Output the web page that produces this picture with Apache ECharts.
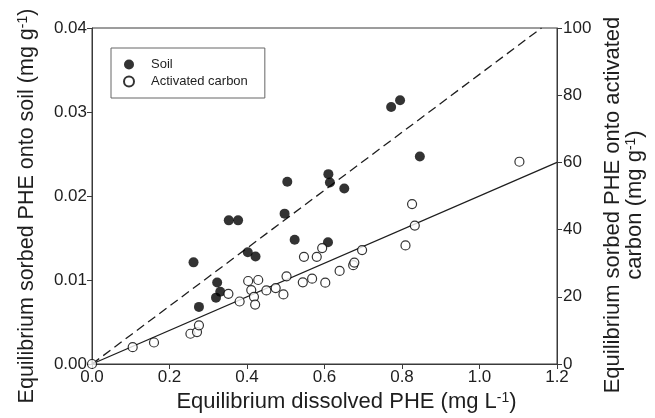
<!DOCTYPE html>
<html>
<head>
<meta charset="utf-8">
<script src="https://cdn.jsdelivr.net/npm/echarts@6/dist/echarts.min.js"></script>
<style>
  html, body { margin: 0; padding: 0; background: #fff; }
  #chart { width: 655px; height: 418px; }
</style>
</head>
<body>
<div id="chart"></div>
<script>
// soil: [dissolved PHE (mg/L), sorbed PHE (mg/g)]
const soilPoints = [
  [0.262, 0.0121], [0.276, 0.0068], [0.320, 0.0079], [0.323, 0.0097],
  [0.331, 0.0086], [0.353, 0.0171], [0.377, 0.0171], [0.402, 0.0133],
  [0.422, 0.0128], [0.497, 0.0179], [0.504, 0.0217], [0.523, 0.0148],
  [0.609, 0.0145], [0.610, 0.0226], [0.614, 0.0216], [0.651, 0.0209],
  [0.772, 0.0306], [0.795, 0.0314], [0.846, 0.0247]
];
// activated carbon: [dissolved PHE (mg/L), sorbed PHE (mg/g)]
const carbonPoints = [
  [0.0, 0.0], [0.105, 5.0], [0.160, 6.4], [0.254, 9.0], [0.271, 9.5],
  [0.276, 11.5], [0.352, 20.9], [0.381, 18.6], [0.403, 24.7], [0.411, 22.0],
  [0.418, 20.0], [0.421, 17.7], [0.429, 25.0], [0.450, 21.9], [0.474, 22.6],
  [0.494, 20.7], [0.502, 26.1], [0.544, 24.3], [0.547, 31.9], [0.568, 25.4],
  [0.580, 31.9], [0.594, 34.5], [0.602, 24.2], [0.639, 27.7], [0.674, 29.4],
  [0.677, 30.2], [0.697, 33.9], [0.809, 35.3], [0.826, 47.6], [0.833, 41.2],
  [1.103, 60.2]
];
// linear fits through origin
const soilFit = [[0, 0], [1.16, 0.04]];
const carbonFit = [[0, 0], [1.2, 60]];

const ink = '#1e1e1e';
const axisColor = '#3a3a3a';
const font = 'Liberation Sans, Arial, sans-serif';
const supStyle = { fontSize: 14, fontFamily: font, color: ink, verticalAlign: 'top', padding: [0, 0, 8, 0] };

let chart = echarts.init(document.getElementById('chart'));
let options = {
  animation: false,
  backgroundColor: '#fff',
  textStyle: { fontFamily: font, color: ink },
  grid: {
    left: 92, right: 98, top: 28, bottom: 54,
    show: true, borderColor: axisColor, borderWidth: 1,
    outerBoundsMode: 'none'
  },
  legend: {
    orient: 'vertical',
    left: 111, top: 48,
    padding: [10, 17, 10, 12],
    borderColor: '#666', borderWidth: 1,
    itemWidth: 24, itemHeight: 10, itemGap: 4,
    textStyle: { fontSize: 13, color: ink, padding: [0, 0, 0, 5] },
    data: ['Soil', 'Activated carbon']
  },
  xAxis: {
    type: 'value', min: 0, max: 1.2, interval: 0.2,
    name: 'Equilibrium dissolved PHE (mg L{sup|-1})',
    nameLocation: 'middle', nameGap: 25,
    nameTextStyle: { fontSize: 22, color: ink, padding: [0, 0, 0, 44], rich: { sup: supStyle } },
    axisLine: { lineStyle: { color: axisColor } },
    axisTick: { length: 5, lineStyle: { color: axisColor } },
    axisLabel: { fontSize: 17, color: ink, margin: 5, formatter: v => v.toFixed(1) },
    splitLine: { show: false }
  },
  yAxis: [
    {
      type: 'value', min: 0, max: 0.04, interval: 0.01,
      name: 'Equilibrium sorbed PHE onto soil (mg g{sup|-1})',
      nameLocation: 'middle', nameGap: 54, nameRotate: 90,
      nameTextStyle: { fontSize: 21.5, color: ink, padding: [0, 20, 0, 0], rich: { sup: supStyle } },
      axisLine: { show: true, lineStyle: { color: axisColor } },
      axisTick: { show: true, length: 5, lineStyle: { color: axisColor } },
      axisLabel: { fontSize: 17, color: ink, margin: 5, formatter: v => v.toFixed(2) },
      splitLine: { show: false }
    },
    {
      type: 'value', min: 0, max: 100, interval: 20, position: 'right',
      name: 'Equilibrium sorbed PHE onto activated\ncarbon (mg g{sup|-1})',
      nameLocation: 'middle', nameGap: 40, nameRotate: 90,
      nameTextStyle: { fontSize: 22, color: ink, lineHeight: 22, padding: [0, 18, 0, 0], rich: { sup: supStyle } },
      axisLine: { show: true, lineStyle: { color: axisColor } },
      axisTick: { show: true, length: 5, lineStyle: { color: axisColor } },
      axisLabel: { fontSize: 17, color: ink, margin: 6 },
      splitLine: { show: false }
    }
  ],
  series: [
    {
      name: 'Soil fit', type: 'line', data: soilFit, yAxisIndex: 0,
      symbol: 'none', silent: true, z: 1,
      lineStyle: { color: ink, width: 1.3, type: [9, 5] }
    },
    {
      name: 'Carbon fit', type: 'line', data: carbonFit, yAxisIndex: 1,
      symbol: 'none', silent: true, z: 1,
      lineStyle: { color: ink, width: 1.3 }
    },
    {
      name: 'Soil', type: 'scatter', data: soilPoints, yAxisIndex: 0,
      symbol: 'circle', symbolSize: 10, z: 3,
      itemStyle: { color: '#000' }
    },
    {
      name: 'Activated carbon', type: 'scatter', data: carbonPoints, yAxisIndex: 1,
      symbol: 'circle', symbolSize: 9, z: 3,
      itemStyle: { color: '#fff', borderColor: '#000', borderWidth: 1.2 }
    }
  ]
};
chart.setOption(options);
</script>
</body>
</html>
